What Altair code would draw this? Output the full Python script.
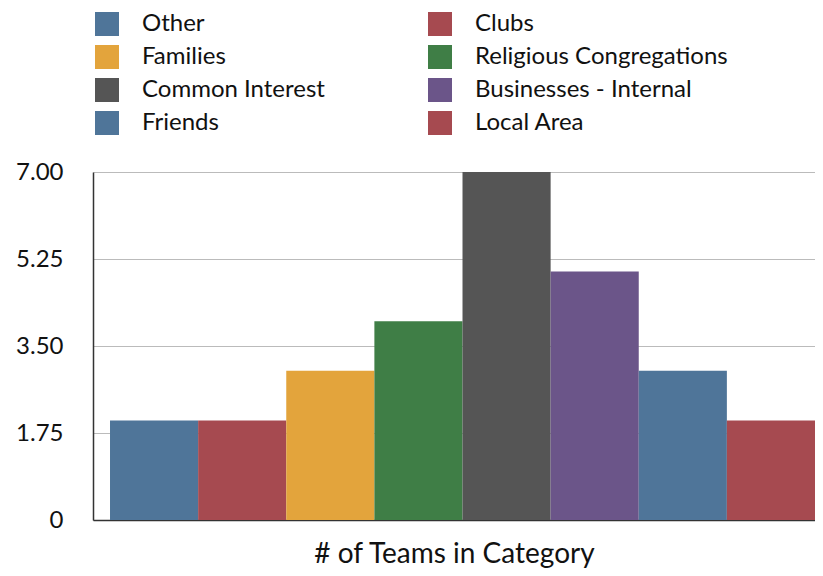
import altair as alt
import pandas as pd

categories = ["Other", "Clubs", "Families", "Religious Congregations",
              "Common Interest", "Businesses - Internal", "Friends", "Local Area"]
values = [2, 2, 3, 4, 7, 5, 3, 2]
colors = ["#4f7599", "#a64a50", "#e3a43c", "#3f7e46", "#555555", "#6b5589", "#4f7599", "#a64a50"]

df = pd.DataFrame({"category": categories, "value": values})
FONT = "Lato"

chart = alt.Chart(df).mark_bar().encode(
    x=alt.X("category:N", sort=categories,
            scale=alt.Scale(paddingInner=0, paddingOuter=0.0965, align=1),
            axis=alt.Axis(labels=False, ticks=False, domain=True, domainColor="#333333",
                          domainWidth=1.5, title="# of Teams in Category",
                          titleFontSize=28, titleFont=FONT, titleFontWeight="normal",
                          titleColor="#111111", titleBaseline="alphabetic",
                          titlePadding=42)),
    y=alt.Y("value:Q", scale=alt.Scale(domain=[0, 7], nice=False),
            axis=alt.Axis(values=[0, 1.75, 3.5, 5.25, 7],
                          labelExpr="datum.value == 0 ? '0' : format(datum.value, '.2f')",
                          labelFontSize=24, labelFont=FONT, labelColor="#111111",
                          labelPadding=30, ticks=False, domain=True, domainColor="#333333",
                          domainWidth=1.5, gridColor="#bbbbbb", gridWidth=1, title=None)),
    color=alt.Color("category:N", scale=alt.Scale(domain=categories, range=colors),
                    legend=alt.Legend(orient="none", legendX=2, legendY=-160, columns=2,
                                      direction="horizontal", title=None,
                                      symbolType="square", symbolSize=576,
                                      symbolStrokeWidth=0, symbolOpacity=1,
                                      labelFontSize=24, labelFont=FONT, labelColor="#111111",
                                      labelOffset=23, rowPadding=9, columnPadding=103,
                                      labelLimit=400)),
).properties(
    width=722, height=348,
    padding={"left": 85, "top": 164, "right": 0, "bottom": 48},
    autosize="none",
).configure_view(stroke=None)

chart.save("out.html", embed_options={"renderer": "svg", "actions": False})
